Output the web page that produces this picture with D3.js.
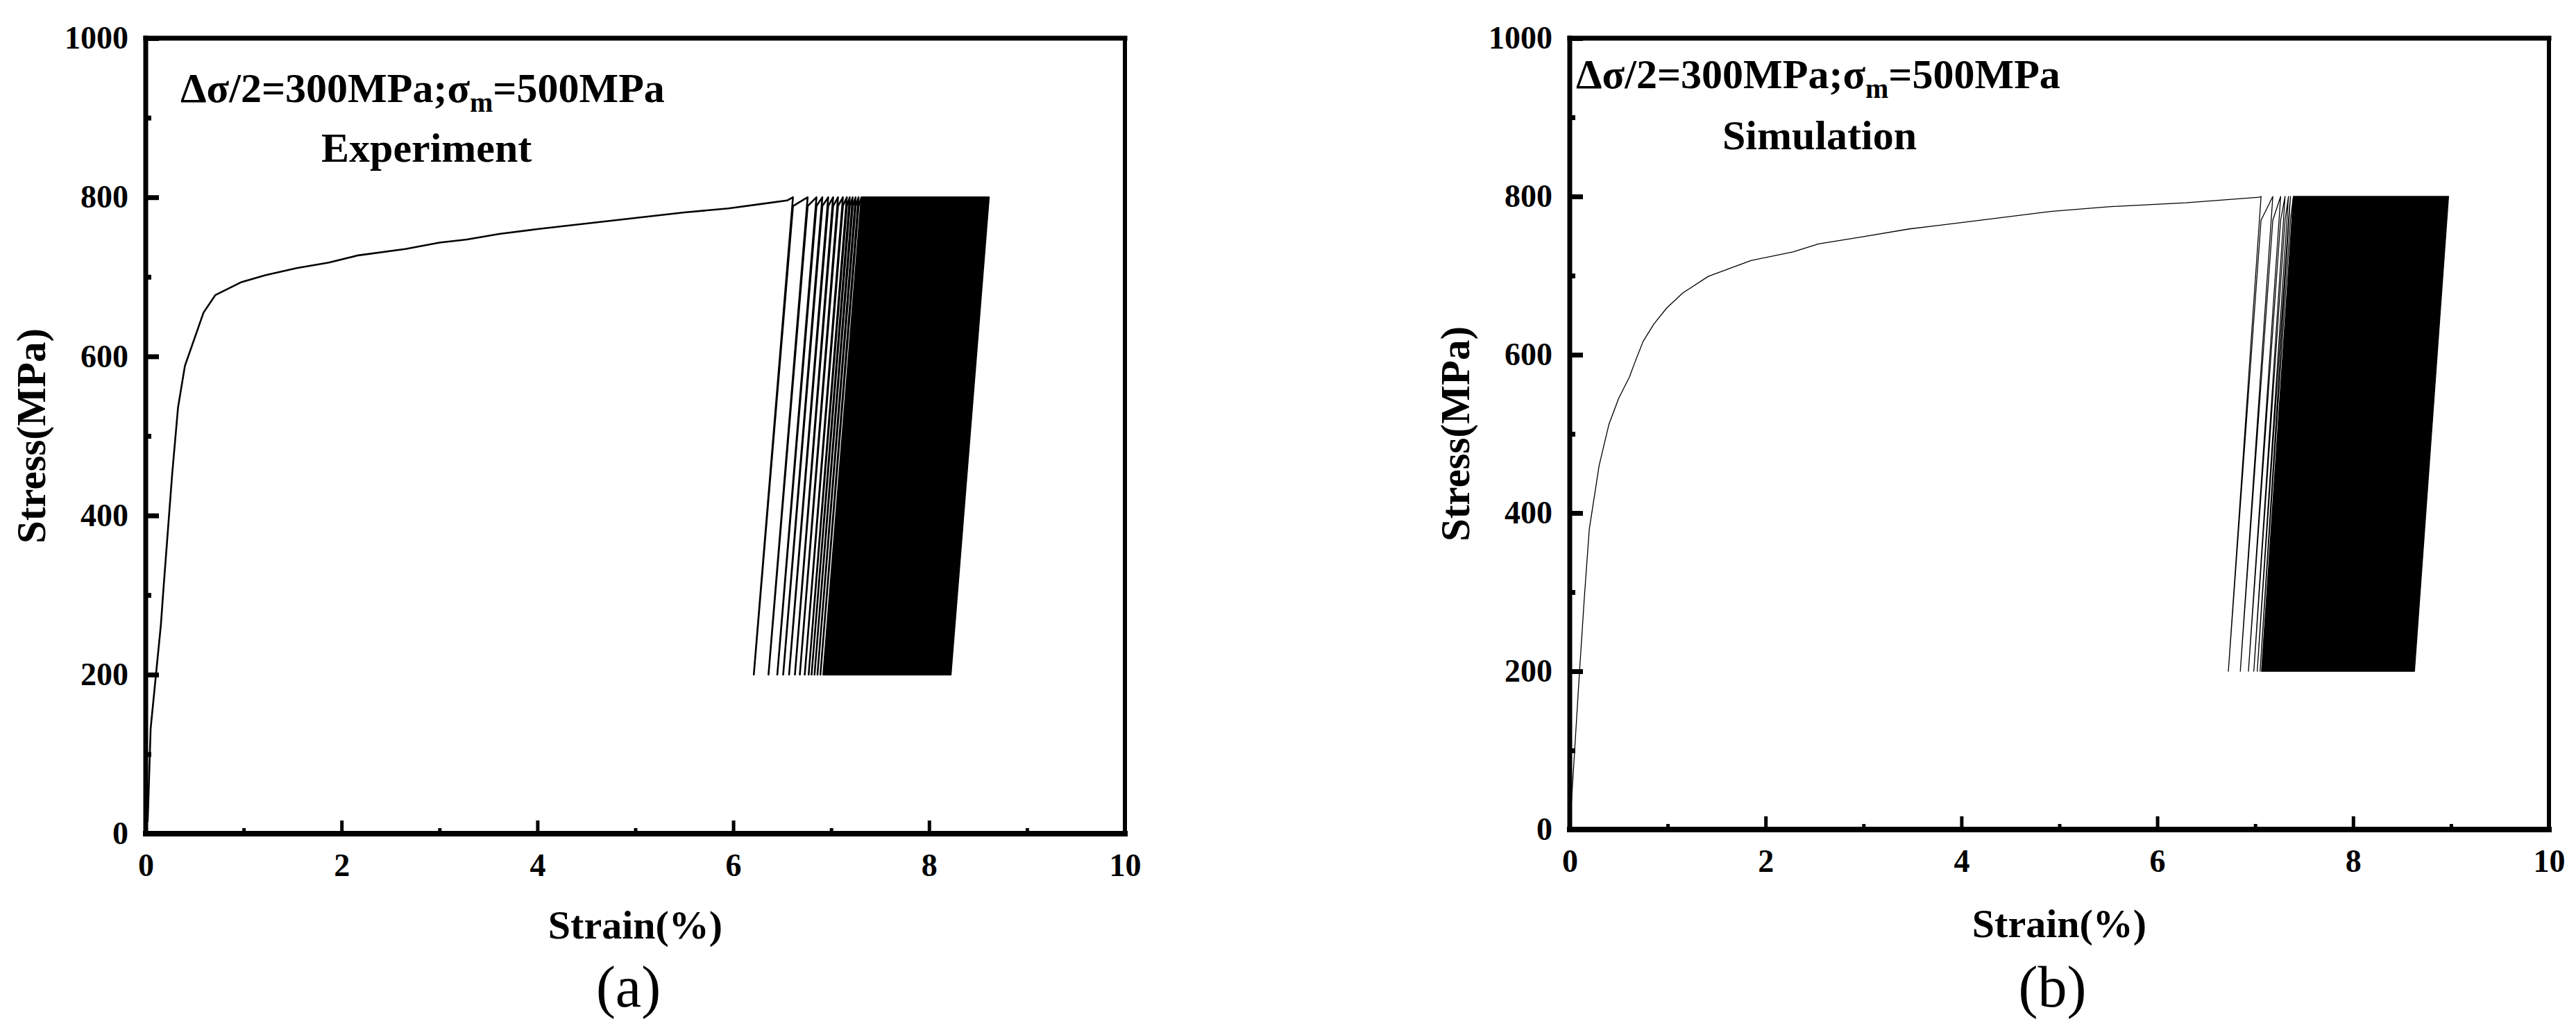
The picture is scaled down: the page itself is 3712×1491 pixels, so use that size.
<!DOCTYPE html>
<html><head><meta charset="utf-8">
<script src="https://cdn.jsdelivr.net/npm/d3@7"></script>
<style>
body{margin:0;background:#fff}
text{font-family:"Liberation Serif","Times New Roman",serif}
</style>
</head><body>
<svg id="c" width="3712" height="1491"></svg>
<script>
// ---- tick values ----
const xTicks = [0, 2, 4, 6, 8, 10];
const xMinor = [1, 3, 5, 7, 9];
const yTicks = [0, 200, 400, 600, 800, 1000];
const yMinor = [100, 300, 500, 700, 900];

// ---- (a) Experiment: monotonic loading curve [strain %, stress MPa] ----
const expMono = [[0.02,15],[0.03,53],[0.05,132],[0.155,263],[0.18,306],[0.27,452],[0.33,536],
  [0.40,588],[0.59,655],[0.71,677],[0.97,693],[1.22,702],[1.54,711],[1.87,718],[2.17,727],
  [2.65,735],[3.0,743],[3.28,747],[3.61,754],[4.0,760],[4.5,767],[5.0,774],[5.5,781],
  [5.95,786],[6.31,792],[6.55,796]];
// strains at max stress (800) and min stress (200) of the distinct early cycles
const expPeaks   = [6.61,6.76,6.85,6.91,6.97,7.02,7.07,7.12,7.16,7.19,7.22,7.25,7.28];
const expValleys = [6.21,6.36,6.45,6.51,6.57,6.63,6.68,6.73,6.77,6.80,6.83,6.86,6.89];
// outline of the dense band of later cycles
const expBand = [[6.92,200],[8.22,200],[8.61,800],[7.31,800]];

// ---- (b) Simulation ----
const simMono = [[0,0],[0.05,100],[0.1,200],[0.15,295],[0.2,380],[0.3,460],[0.4,512],
  [0.5,545],[0.61,572],[0.67,592],[0.75,617],[0.86,639],[0.99,659],[1.155,678],[1.415,699],[1.85,719],
  [2.28,730],[2.54,740],[2.99,749],[3.47,759],[4.0,767],[4.91,781],[5.5,787],[6.29,792],[7.04,799]];
const simPeaks   = [7.06,7.18,7.26,7.305,7.34,7.36];
const simValleys = [6.726,6.848,6.931,6.986,7.021,7.050];
const simBand = [[7.065,200],[8.627,200],[8.975,800],[7.39,800]];

const stressMax = 800, stressMin = 200;

const svg = d3.select("#c");

const panels = [
  {x0:210, x1:1621, yb:1201, yt:55, mono:expMono, peaks:expPeaks, valleys:expValleys, band:expBand,
   knee:789, lw:2.6, t1x:260, t1y:147, t2:"Experiment", t2x:463, t2y:233, lab:"(a)",
   xlabY:1352, subY:1450},
  {x0:2262, x1:3673, yb:1195, yt:55, mono:simMono, peaks:simPeaks, valleys:simValleys, band:simBand,
   knee:770, lw:1.3, t1x:2271, t1y:127, t2:"Simulation", t2x:2482, t2y:215, lab:"(b)",
   xlabY:1350, subY:1450}
];

panels.forEach(p => {
  const x = d3.scaleLinear().domain([0,10]).range([p.x0, p.x1]);
  const y = d3.scaleLinear().domain([0,1000]).range([p.yb, p.yt]);
  const g = svg.append("g");

  // data
  const pts = p.mono.slice();
  p.peaks.forEach((pk, i) => {
    pts.push([pk, stressMax]);
    pts.push([p.valleys[i], stressMin]);
    pts.push([pk, p.knee]);
  });
  pts.push(p.band[3]);
  const line = d3.line().x(d => x(d[0])).y(d => y(d[1]));
  g.append("path").attr("d", line(p.band) + "Z").attr("fill", "#000")
    .attr("stroke", "#000").attr("stroke-width", p.lw).attr("stroke-linejoin","round");
  g.append("path").attr("d", line(pts)).attr("fill", "none").attr("stroke", "#000")
    .attr("stroke-width", p.lw).attr("stroke-linejoin", "round");

  // axes
  const ya = g.append("g").attr("transform", `translate(${p.x0},0)`)
    .call(d3.axisLeft(y).tickValues(yTicks).tickSize(-19).tickSizeOuter(0).tickPadding(25)
      .tickFormat(d3.format("d")));
  ya.select(".domain").remove();
  ya.selectAll("line").attr("stroke-width", 7);
  ya.selectAll("text").attr("font-size", 46).attr("font-weight", "bold")
    .attr("font-family", '"Liberation Serif",serif');
  const ym = g.append("g").attr("transform", `translate(${p.x0},0)`)
    .call(d3.axisLeft(y).tickValues(yMinor).tickSize(-8).tickSizeOuter(0).tickFormat(""));
  ym.select(".domain").remove();
  ym.selectAll("line").attr("stroke-width", 7);

  const xa = g.append("g").attr("transform", `translate(0,${p.yb})`)
    .call(d3.axisBottom(x).tickValues(xTicks).tickSize(-19).tickSizeOuter(0).tickPadding(28)
      .tickFormat(d3.format("d")));
  xa.select(".domain").remove();
  xa.selectAll("line").attr("stroke-width", 5);
  xa.selectAll("text").attr("font-size", 46).attr("font-weight", "bold")
    .attr("font-family", '"Liberation Serif",serif');
  const xm = g.append("g").attr("transform", `translate(0,${p.yb})`)
    .call(d3.axisBottom(x).tickValues(xMinor).tickSize(-8).tickSizeOuter(0).tickFormat(""));
  xm.select(".domain").remove();
  xm.selectAll("line").attr("stroke-width", 5);

  // frame
  const fr = [[p.x0, p.yt, p.x1, p.yt, 7], [p.x0, p.yb, p.x1, p.yb, 8],
              [p.x0, p.yt, p.x0, p.yb, 7], [p.x1, p.yt, p.x1, p.yb, 6]];
  fr.forEach(f => g.append("line").attr("x1", f[0]).attr("y1", f[1]).attr("x2", f[2]).attr("y2", f[3])
    .attr("stroke", "#000").attr("stroke-width", f[4]).attr("stroke-linecap", "square"));

  // axis titles
  g.append("text").attr("transform", `translate(${p.x0 - 145},${(p.yt + p.yb) / 2}) rotate(-90)`)
    .attr("text-anchor", "middle").attr("font-size", 59).attr("font-weight", "bold").text("Stress(MPa)");
  g.append("text").attr("x", (p.x0 + p.x1) / 2).attr("y", p.xlabY).attr("text-anchor", "middle")
    .attr("font-size", 58).attr("font-weight", "bold").text("Strain(%)");
  g.append("text").attr("x", (p.x0 + p.x1) / 2 - 10).attr("y", p.subY).attr("text-anchor", "middle")
    .attr("font-size", 84).text(p.lab);

  // annotations
  const t = g.append("text").attr("x", p.t1x).attr("y", p.t1y).attr("font-size", 60).attr("font-weight", "bold");
  t.append("tspan").text("Δσ/2=300MPa;σ");
  t.append("tspan").attr("font-size", 40).attr("dy", 14).text("m");
  t.append("tspan").attr("dy", -14).text("=500MPa");
  g.append("text").attr("x", p.t2x).attr("y", p.t2y).attr("font-size", 60).attr("font-weight", "bold").text(p.t2);
});
</script>
</body></html>
